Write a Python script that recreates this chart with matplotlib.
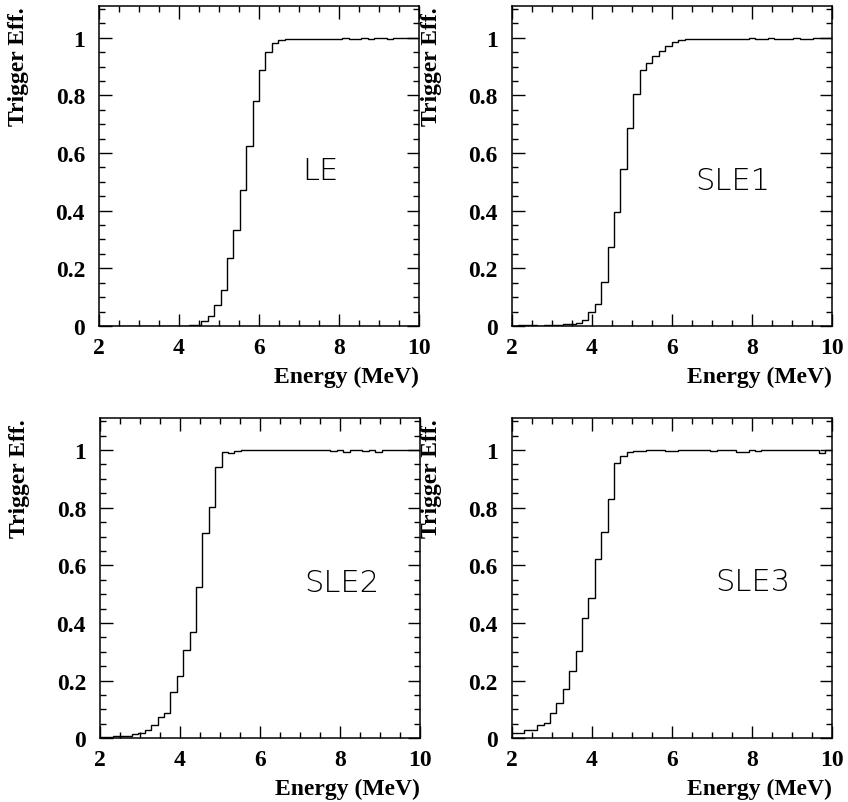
import numpy as np
import matplotlib
matplotlib.use("Agg")
import matplotlib.pyplot as plt
from matplotlib import font_manager
from matplotlib.ticker import MultipleLocator

# histogram binning: 50 bins from 2 to 10 MeV
e_lo, e_hi, n_bins = 2.0, 10.0, 50

eff_le = [0.0] * 13 + [
    0.001, 0.002, 0.005, 0.016, 0.034, 0.074, 0.125, 0.235, 0.333, 0.472,
    0.626, 0.780, 0.887, 0.950, 0.980, 0.991, 0.995,
    0.996, 0.997, 0.996, 0.997, 0.997, 0.996, 0.997, 0.997, 0.998, 0.997,
    0.997, 0.998, 0.997, 0.998, 0.998, 0.997, 0.998, 0.998,
    1.0, 1.0]

eff_sle1 = [
    0.001, 0.002, 0.002, 0.002, 0.001, 0.002, 0.002, 0.003, 0.007, 0.007,
    0.010, 0.021, 0.047, 0.076, 0.152, 0.273, 0.395, 0.545, 0.688, 0.806,
    0.889, 0.912, 0.935, 0.954, 0.970, 0.985, 0.991, 0.995, 0.996, 0.997,
    0.997, 0.996, 0.997, 0.997, 0.997, 0.995, 0.997, 0.998, 0.997, 0.997,
    0.998, 0.997, 0.996, 0.997, 0.998, 0.997, 0.997, 0.998, 1.0, 1.0]

eff_sle2 = [
    0.003, 0.003, 0.007, 0.007, 0.007, 0.016, 0.020, 0.029, 0.046, 0.073,
    0.089, 0.162, 0.216, 0.307, 0.370, 0.526, 0.713, 0.803, 0.940, 0.992,
    0.990, 0.995, 1.0, 1.0, 1.0, 1.0, 1.0, 1.0, 1.0, 1.0,
    1.0, 1.0, 1.0, 1.0, 1.0, 1.0, 0.996, 1.0, 0.992, 1.0,
    1.0, 0.996, 1.0, 0.992, 1.0, 1.0, 1.0, 1.0, 1.0, 1.0]

eff_sle3 = [
    0.018, 0.018, 0.030, 0.030, 0.046, 0.052, 0.087, 0.123, 0.170, 0.233,
    0.304, 0.417, 0.488, 0.623, 0.717, 0.831, 0.956, 0.981, 0.993, 0.998,
    0.998, 1.0, 1.0, 1.0, 0.998, 0.998, 1.0, 1.0, 1.0, 1.0,
    1.0, 0.998, 1.0, 1.0, 1.0, 0.994, 0.994, 1.0, 0.998, 1.0,
    1.0, 1.0, 1.0, 1.0, 1.0, 1.0, 1.0, 1.0, 0.990, 1.0]

panel_names = ["LE", "SLE1", "SLE2", "SLE3"]
panel_data = [eff_le, eff_sle1, eff_sle2, eff_sle3]
label_pos = [(7.53, 0.539), (7.53, 0.503), (8.04, 0.541), (8.03, 0.543)]

# pick a thin sans font for the trigger names if one is installed
thin_font = "DejaVu Sans"
thin_weight = "normal"
for fam in ["DejaVu Sans", "Lato", "Roboto", "Open Sans", "Inter", "Noto Sans"]:
    found = [f for f in font_manager.fontManager.ttflist
             if f.name == fam and isinstance(f.weight, int) and f.weight <= 300]
    if found:
        thin_font = fam
        thin_weight = min(f.weight for f in found)
        break

serif = ["Liberation Serif", "DejaVu Serif"]

fig = plt.figure(figsize=(8.48, 8.03), dpi=100)
boxes = [[0.1167, 0.5928, 0.3774, 0.3985],
         [0.6034, 0.5928, 0.3774, 0.3985],
         [0.1179, 0.0793, 0.3774, 0.3985],
         [0.6034, 0.0793, 0.3774, 0.3985]]

edges = np.linspace(e_lo, e_hi, n_bins + 1)

for box, name, vals, (lx, ly) in zip(boxes, panel_names, panel_data, label_pos):
    ax = fig.add_axes(box)
    ax.stairs(vals, edges, color="black", lw=1.0, baseline=None)
    ax.set_xlim(e_lo, e_hi)
    ax.set_ylim(0, 1.11)
    ax.xaxis.set_major_locator(MultipleLocator(2))
    ax.xaxis.set_minor_locator(MultipleLocator(0.5))
    ax.yaxis.set_major_locator(MultipleLocator(0.2))
    ax.yaxis.set_minor_locator(MultipleLocator(0.05))
    ax.set_yticks([0, 0.2, 0.4, 0.6, 0.8, 1.0])
    ax.set_yticklabels(["0", "0.2", "0.4", "0.6", "0.8", "1"])
    ax.tick_params(which="both", direction="in", top=True, right=True, width=1.0)
    ax.tick_params(which="major", length=9)
    ax.tick_params(which="minor", length=4.5)
    ax.tick_params(axis="x", pad=8)
    ax.tick_params(axis="y", pad=10)
    for lab in ax.get_xticklabels() + ax.get_yticklabels():
        lab.set_family(serif)
        lab.set_fontweight("bold")
        lab.set_fontsize(17)
    for sp in ax.spines.values():
        sp.set_linewidth(1.1)
    ax.text(1.0, -0.158, "Energy (MeV)", transform=ax.transAxes, ha="right",
            va="center", family=serif, fontweight="bold", fontsize=17)
    ax.text(-0.25, 1.0, "Trigger Eff.", transform=ax.transAxes, rotation=90,
            ha="center", va="top", family=serif, fontweight="bold", fontsize=17)
    ax.text(lx, ly, name, ha="center", va="center", family=thin_font,
            fontweight=thin_weight, fontsize=22)

fig.savefig("out.png", dpi=100)
